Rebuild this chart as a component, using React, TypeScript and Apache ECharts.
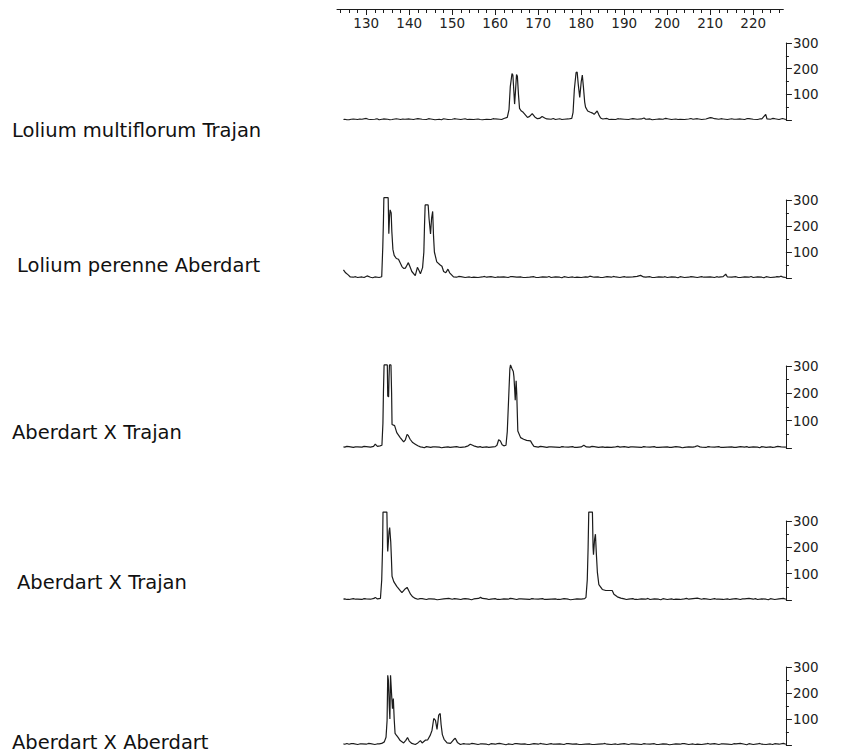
import React, { useEffect, useRef } from "react";
import * as echarts from "echarts";

// ---- data (allele size in bp, fluorescence intensity) ----
const LABELS = [
  "Lolium multiflorum Trajan",
  "Lolium perenne Aberdart",
  "Aberdart X Trajan",
  "Aberdart X Trajan",
  "Aberdart X Aberdart",
];

const TOP_MAJOR_TICKS = [130, 140, 150, 160, 170, 180, 190, 200, 210, 220];
const TOP_MINOR_TICKS = [
  124, 126, 128, 130, 132, 134, 136, 138, 140, 142, 144, 146, 148, 150, 152, 154, 156, 158, 160,
  162, 164, 166, 168, 170, 172, 174, 176, 178, 180, 182, 184, 186, 188, 190, 192, 194, 196, 198,
  200, 202, 204, 206, 208, 210, 212, 214, 216, 218, 220, 222, 224, 226,
];

const P1 = [
  [124.7,2],[125,3],[125.5,1],[126,1],[126.5,3],[127,4],[128,2],[128.5,4],[129,3],[130,6],[130.5,3],[131,2],[132,3],[132.5,5],[133,1],[134,4],[135,3],[135.5,1],[136,2],[137,5],[138,2],[138.5,4],[139,3],[140,4],[141,2],[141.5,4],[142,5],[143,3],[144,2],[144.5,5],[145,4],[146,1],[147,3],[147.5,1],[148,5],[149,2],[150,3],[150.5,5],[151,4],[152,2],[153,5],[153.5,2],[154,3],[155,2],[156,4],[156.5,2],[157,1],[158,3],[159,2],[159.5,5],[160,4],[161,3],[161.5,2],[162,6],[162.8,10],
  [163.2,40],[163.5,130],[163.9,181],[164.1,175],[164.3,120],[164.5,62],[164.7,110],[164.95,177],[165.15,170],[165.4,100],[165.65,45],[166,36],[166.5,30],[167,20],[167.5,10],[168,14],[168.6,25],[169.2,12],[169.8,5],[170.3,6],[170.9,14],[171.5,8],[172,4],
  [173,3],[173.5,6],[174,2],[175,5],[175.5,2],[176,3],[177,4],[177.8,6],[178.1,30],[178.4,120],[178.8,185],[179.05,187],[179.3,140],[179.65,88],[180,150],[180.25,175],[180.5,130],[180.8,70],[181,50],[181.5,35],[182,31],[182.5,28],[183,22],[183.7,35],[184.1,20],[184.5,8],[185,4],[186,6],[186.5,2],[187,3],[188,2],[188.5,5],[189,4],[190,3],[191,2],[191.5,4],[192,5],[193,3],[194,4],[194.6,8],[195,3],[196,4],[196.5,1],[197,2],[198,4],[199,3],[199.5,6],[200,5],[201,2],[202,4],[202.5,2],[203,3],[204,2],[205,4],[205.5,6],[206,3],[207,5],[208,2],[209,4],[210,9],[210.5,8],[211,5],[212,3],[212.5,5],[213,4],[214,2],[215,5],[215.5,3],[216,3],[217,4],[218,2],[218.5,5],[219,5],[220,3],[221,2],[221.5,4],[222,4],[222.9,22],[223.2,4],[224,3],[224.5,6],[225,5],[226,2],[226.8,6],[227.6,2],
];

const P2 = [
  [124.7,31],[125.2,20],[125.8,12],[126.3,4],[127,3],[127.5,5],[128,2],[129,4],[129.5,2],[130.2,8],[131,3],[131.5,1],[132,4],[133,2],[133.6,5],[133.85,120],[134.0,220],[134.1,309],[135.1,309],[135.25,170],[135.4,230],[135.55,262],[135.8,250],[135.95,180],[136.2,110],[136.5,87],[137,75],[137.5,72],[138.3,44],[138.7,37],[139.1,38],[139.5,50],[139.8,59],[140.2,42],[140.6,25],[141.4,9],[141.9,41],[142.3,28],[142.6,16],[143.1,40],[143.4,100],[143.55,200],[143.7,281],[144.4,281],[144.6,230],[144.95,169],[145.2,230],[145.45,256],[145.65,160],[145.85,100],[146.4,62],[147.2,50],[147.6,45],[148.0,25],[148.5,20],[149.0,34],[149.4,20],[150.3,4],
  [151,3],[151.5,6],[152,5],[153,2],[154,4],[154.5,2],[155,3],[156,2],[157,4],[157.5,6],[158,3],[159,5],[160,2],[160.5,4],[161,3],[162,4],[163,2],[163.5,5],[164,5],[165,3],[166,4],[166.5,2],[167,2],[168,3],[169,5],[169.5,2],[170,2],[171,4],[172,3],[172.5,6],[173,2],[174,4],[175,3],[175.5,1],[176,5],[177,2],[178,4],[178.5,2],[179,3],[180,2],[181,4],[181.5,3],[182,7],[183,3],[184,4],[184.5,2],[185,2],[186,5],[187,3],[187.5,6],[188,4],[189,2],[190,5],[190.5,3],[191,3],[192,4],[193,6],[193.8,10],[194.5,4],[195,3],[196,5],[196.5,2],[197,2],[198,4],[199,3],[199.5,5],[200,2],[201,4],[202,3],[202.5,1],[203,5],[204,2],[205,3],[205.5,5],[206,4],[207,2],[208,5],[208.5,3],[209,3],[210,4],[211,2],[211.5,5],[212,3],[213,5],[213.6,15],[214,4],[215,3],[216,5],[216.5,2],[217,2],[218,4],[219,3],[219.5,6],[220,2],[221,4],[222,3],[222.5,1],[223,5],[224,2],[225,3],[225.5,5],[226,4],[226.4,7],[227,3],[227.6,2],
];

const P3 = [
  [124.7,4],[125,3],[125.5,6],[126,5],[127,2],[127.5,4],[128,4],[129,3],[129.5,6],[130,5],[131,3],[131.7,6],[132.1,14],[132.6,6],[133.2,8],[133.65,10],[133.88,90],[134.0,205],[134.15,304],[134.9,304],[135.0,190],[135.2,187],[135.3,260],[135.4,304],[135.75,304],[135.9,200],[136.0,86],[136.6,82],[137.1,56],[137.9,38],[138.7,22],[139.1,30],[139.5,50],[139.8,45],[140.2,32],[140.8,20],[141.4,14],[142,8],[142.6,4],
  [143,3],[143.5,1],[144,5],[145,2],[145.5,4],[146,4],[147,3],[147.5,1],[148,2],[149,4],[149.5,2],[150,3],[151,5],[151.5,3],[152,2],[153,4],[153.7,8],[154.2,14],[155,8],[156,3],[156.5,5],[157,2],[158,4],[158.5,2],[159,3],[160,5],[160.4,10],[160.8,30],[161.2,26],[161.6,12],[162,8],[162.5,10],[162.8,60],[163.1,175],[163.4,290],[163.55,304],[163.9,290],[164.2,280],[164.35,260],[164.5,220],[164.65,175],[164.86,246],[165.0,200],[165.25,62],[165.9,38],[166.6,32],[167.3,28],[168.2,26],[168.6,15],[169,6],
  [170,3],[170.5,6],[171,5],[172,2],[172.5,4],[173,4],[174,3],[175,2],[175.5,5],[176,4],[177,3],[178,5],[178.5,2],[179,2],[180,4],[180.6,10],[181.2,4],[182,3],[182.5,6],[183,5],[184,2],[185,4],[185.5,2],[186,3],[187,2],[188,4],[188.5,6],[189,3],[190,5],[191,2],[191.5,4],[192,4],[193,3],[194,2],[194.5,5],[195,4],[196,3],[197,5],[197.5,2],[198,2],[199,3],[200,4],[200.5,2],[201,2],[202,5],[203,3],[203.5,1],[204,2],[205,4],[206,3],[206.5,5],[207,8],[207.6,4],[208,3],[209,2],[209.5,5],[210,4],[211,3],[212,5],[212.5,2],[213,2],[214,3],[215,4],[215.5,2],[216,2],[217,5],[218,3],[218.5,5],[219,2],[220,4],[221,3],[221.5,1],[222,5],[223,2],[224,4],[224.5,2],[225,3],[225.7,6],[226.5,4],[227.6,3],
];

const P4 = [
  [124.7,3],[125,4],[125.5,2],[126,2],[127,5],[127.5,3],[128,3],[129,2],[129.5,5],[130,4],[131,3],[131.8,6],[132.1,10],[132.6,4],[133.3,6],[133.6,76],[133.8,200],[133.9,334],[134.8,334],[134.95,200],[135.0,184],[135.3,260],[135.45,275],[135.7,220],[135.85,160],[136.0,90],[136.4,70],[137.1,52],[137.9,36],[138.3,28],[139.1,43],[139.5,48],[139.9,35],[140.3,22],[140.8,12],[141.4,6],
  [142,3],[142.5,5],[143,5],[144,2],[144.5,4],[145,4],[146,3],[146.5,1],[147,2],[148,4],[149.2,6],[150,3],[150.5,5],[151,4],[152,2],[152.5,4],[153,5],[154,3],[154.5,1],[155,4],[156.1,6],[156.6,10],[157,6],[158,4],[158.5,2],[159,3],[160,5],[160.5,2],[161,2],[162,4],[163,3],[163.5,6],[164,5],[165,2],[165.5,4],[166,4],[167,3],[168,2],[168.5,5],[169,4],[170,3],[171,5],[171.5,2],[172,2],[173,3],[174,4],[174.5,2],[175,2],[176,5],[177,3],[177.5,1],[178,2],[179,4],[180,3],[180.8,5],[181.1,10],
  [181.4,76],[181.6,200],[181.75,334],[182.6,334],[182.75,200],[182.85,172],[183.1,230],[183.3,250],[183.5,180],[183.75,106],[184.1,58],[184.9,40],[185.7,36],[186.5,36],[187.2,36],[187.6,22],[188.4,12],[189.2,7],
  [190,4],[190.5,2],[191,3],[192,5],[192.5,2],[193,2],[194,4],[195,3],[195.5,6],[196,2],[197,4],[198,3],[198.5,1],[199,5],[200,2],[201,4],[201.5,2],[202,3],[203,2],[204,4],[204.5,6],[205,3],[206,5],[207,7],[208,3],[208.5,5],[209,4],[210,2],[211,5],[211.5,3],[212,3],[213,2],[214,4],[214.5,2],[215,3],[216,5],[217,2],[217.5,4],[218,4],[219,6],[220,3],[220.5,5],[221,2],[222,4],[223,3],[223.5,1],[224,5],[225,2],[226,4],[227,6],[227.6,3],
];

const P5 = [
  [124.7,4],[125,3],[125.5,6],[126,3],[126.5,5],[127,5],[128,2],[128.5,4],[129,4],[130,3],[130.5,6],[131,5],[132,2],[132.5,4],[133,4],[133.6,6],[134.2,12],[134.6,30],[134.85,95],[135.0,268],[135.15,250],[135.35,150],[135.5,100],[135.65,268],[135.8,268],[135.95,180],[136.1,140],[136.3,179],[136.5,100],[136.7,45],[137,38],[137.4,29],[137.9,17],[138.7,8],[139.2,18],[139.6,29],[140,15],[140.6,6],[141.4,2],[142,8],[142.6,17],[143,8],[143.8,19],[144.3,20],[144.9,38],[145.3,57],[145.7,102],[146.1,95],[146.46,60],[146.85,115],[147.2,121],[147.4,80],[147.7,40],[148.1,22],[148.8,8],[149.6,6],[150.3,20],[150.7,26],[151.2,10],[151.9,2],
  [152.5,5],[153,4],[154,3],[154.5,6],[155,5],[156,2],[156.5,4],[157,4],[158,3],[158.5,1],[159,5],[160,3],[160.5,5],[161,6],[162,3],[162.5,1],[163,4],[164,2],[164.5,5],[165,5],[166,3],[167,4],[167.5,2],[168,2],[169,5],[170,3],[170.5,6],[171,4],[172,2],[173,5],[173.5,3],[174,3],[175,4],[176,2],[176.5,5],[177,5],[178,3],[179,4],[179.5,2],[180,2],[181,3],[182,4],[182.5,2],[183,2],[184,3],[185,4],[185.5,6],[186,3],[187,2],[188,4],[188.5,2],[189,3],[190,5],[191,2],[191.5,4],[192,4],[193,3],[194,2],[194.5,5],[195,4],[196,3],[197,5],[197.5,2],[198,2],[199,4],[200,3],[200.5,1],[201,2],[202,4],[203,3],[203.5,5],[204,5],[205,2],[206,4],[206.5,2],[207,3],[208,2],[209,4],[209.5,6],[210,3],[211,5],[212,2],[212.5,4],[213,4],[214,3],[215,2],[215.5,5],[216,4],[217,6],[218,3],[218.5,1],[219,5],[220,2],[221,4],[221.5,6],[222,3],[223,2],[224,4],[224.5,2],[225,5],[226,3],[227,6],[227.6,3],
];

const TRACES = [P1, P2, P3, P4, P5];

// ---- layout ----
const X_MIN = 123.2;
const X_MAX = 227.6;
const TOP_AXIS_MAX = 227;
const PX_PER_UNIT = 4.3;
const PLOT_LEFT = 337;
const PANELS = [
  { top: 43, height: 77 },
  { top: 200, height: 78 },
  { top: 366, height: 82 },
  { top: 521, height: 79 },
  { top: 667, height: 78 },
];
const LABEL_POS = [
  { x: 12, y: 130 },
  { x: 17, y: 265 },
  { x: 12, y: 432 },
  { x: 17, y: 582 },
  { x: 12, y: 742 },
];

const INK = "#1c1c1c";
const NUM_FONT = "DejaVu Sans";

export default function App() {
  const ref = useRef<HTMLDivElement | null>(null);

  useEffect(() => {
    if (!ref.current) return;
    const chart = echarts.init(ref.current, null, { renderer: "svg" });

    const panelWidth = (X_MAX - X_MIN) * PX_PER_UNIT;
    const topWidth = (TOP_AXIS_MAX - X_MIN) * PX_PER_UNIT;

    const grids: any[] = PANELS.map((p) => ({
      left: PLOT_LEFT,
      width: panelWidth,
      top: p.top,
      height: p.height,
      containLabel: false,
    }));
    grids.push({ left: PLOT_LEFT, width: topWidth, top: 8, height: 1 });
    grids.push({ left: PLOT_LEFT, width: topWidth, top: 8, height: 1 });

    const xAxes: any[] = PANELS.map((_, i) => ({
      gridIndex: i,
      type: "value",
      min: X_MIN,
      max: X_MAX,
      show: false,
    }));
    xAxes.push({
      gridIndex: 5,
      type: "value",
      min: X_MIN,
      max: TOP_AXIS_MAX,
      position: "bottom",
      axisLine: { show: true, onZero: false, lineStyle: { color: INK, width: 1 } },
      axisTick: { show: true, length: 4, customValues: TOP_MINOR_TICKS, lineStyle: { color: INK, width: 1 } },
      axisLabel: { show: false },
      splitLine: { show: false },
    });
    xAxes.push({
      gridIndex: 6,
      type: "value",
      min: X_MIN,
      max: TOP_AXIS_MAX,
      position: "bottom",
      axisLine: { show: false, onZero: false },
      axisTick: { show: true, length: 6, customValues: TOP_MAJOR_TICKS, lineStyle: { color: INK, width: 1 } },
      axisLabel: {
        show: true,
        customValues: TOP_MAJOR_TICKS,
        margin: 7,
        fontSize: 13.5,
        fontFamily: NUM_FONT,
        color: "#222",
      },
      splitLine: { show: false },
    });

    const yAxes: any[] = PANELS.map((_, i) => ({
      gridIndex: i,
      type: "value",
      min: 0,
      max: 300,
      interval: 100,
      position: "right",
      axisLine: { show: true, lineStyle: { color: INK, width: 1 } },
      axisTick: { show: true, length: 6, lineStyle: { color: INK, width: 1 } },
      minorTick: { show: true, splitNumber: 2, length: 3, lineStyle: { color: INK, width: 1 } },
      axisLabel: {
        show: true,
        margin: 7,
        fontSize: 13.5,
        fontFamily: NUM_FONT,
        color: "#222",
        formatter: (v: number) => (v === 0 ? "" : String(v)),
      },
      splitLine: { show: false },
      minorSplitLine: { show: false },
    }));
    yAxes.push({ gridIndex: 5, type: "value", show: false });
    yAxes.push({ gridIndex: 6, type: "value", show: false });

    const series = TRACES.map((d, i) => ({
      type: "line",
      xAxisIndex: i,
      yAxisIndex: i,
      data: d,
      showSymbol: false,
      symbol: "none",
      clip: false,
      lineStyle: { color: INK, width: 1.2 },
      silent: true,
    }));

    const graphic = LABELS.map((t, i) => ({
      type: "text",
      x: LABEL_POS[i].x,
      y: LABEL_POS[i].y,
      style: {
        text: t,
        fill: "#111",
        fontSize: 19.5,
        fontFamily: "DejaVu Sans",
        verticalAlign: "middle",
      },
    }));

    chart.setOption({
      animation: false,
      backgroundColor: "#ffffff",
      grid: grids,
      xAxis: xAxes,
      yAxis: yAxes,
      series,
      graphic,
    });

    return () => chart.dispose();
  }, []);

  return (
    <div
      ref={ref}
      style={{ position: "absolute", left: 0, top: 0, width: 863, height: 753, background: "#fff" }}
    />
  );
}
